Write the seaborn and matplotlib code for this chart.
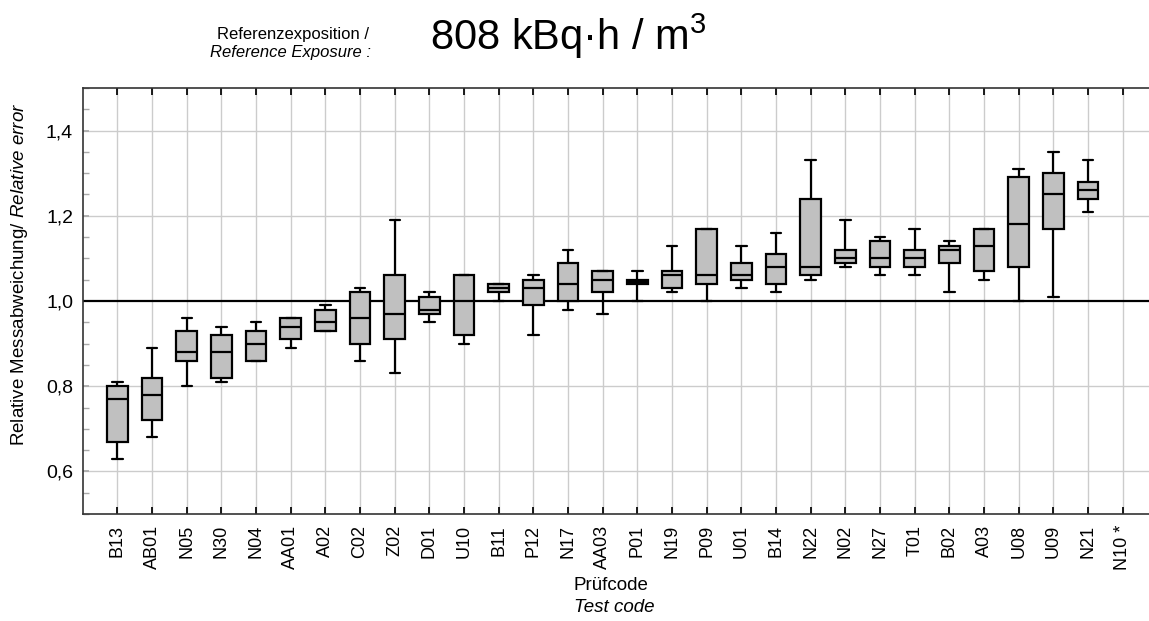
import numpy as np
import pandas as pd
import matplotlib
matplotlib.use("Agg")
import matplotlib.pyplot as plt
from matplotlib.ticker import MultipleLocator, FixedLocator
import seaborn as sns

# ---- data ----
codes = ["B13", "AB01", "N05", "N30", "N04", "AA01", "A02", "C02", "Z02", "D01",
         "U10", "B11", "P12", "N17", "AA03", "P01", "N19", "P09", "U01", "B14",
         "N22", "N02", "N27", "T01", "B02", "A03", "U08", "U09", "N21", "N10 *"]
w_low = [0.63, 0.68, 0.80, 0.81, 0.86, 0.89, 0.93, 0.86, 0.83, 0.95,
         0.90, 1.00, 0.92, 0.98, 0.97, 1.00, 1.02, 1.00, 1.03, 1.02,
         1.05, 1.08, 1.06, 1.06, 1.02, 1.05, 1.00, 1.01, 1.21, None]
q1 = [0.67, 0.72, 0.86, 0.82, 0.86, 0.91, 0.93, 0.90, 0.91, 0.97,
      0.92, 1.02, 0.99, 1.00, 1.02, 1.04, 1.03, 1.04, 1.05, 1.04,
      1.06, 1.09, 1.08, 1.08, 1.09, 1.07, 1.08, 1.17, 1.24, None]
med = [0.77, 0.78, 0.88, 0.88, 0.90, 0.94, 0.95, 0.96, 0.97, 0.98,
       1.00, 1.03, 1.03, 1.04, 1.05, 1.045, 1.06, 1.06, 1.06, 1.08,
       1.08, 1.10, 1.10, 1.10, 1.12, 1.13, 1.18, 1.25, 1.26, None]
q3 = [0.80, 0.82, 0.93, 0.92, 0.93, 0.96, 0.98, 1.02, 1.06, 1.01,
      1.06, 1.04, 1.05, 1.09, 1.07, 1.05, 1.07, 1.17, 1.09, 1.11,
      1.24, 1.12, 1.14, 1.12, 1.13, 1.17, 1.29, 1.30, 1.28, None]
w_high = [0.81, 0.89, 0.96, 0.94, 0.95, 0.96, 0.99, 1.03, 1.19, 1.02,
          1.06, 1.04, 1.06, 1.12, 1.07, 1.07, 1.13, 1.17, 1.13, 1.16,
          1.33, 1.19, 1.15, 1.17, 1.14, 1.17, 1.31, 1.35, 1.33, None]
ytick_vals = [0.6, 0.8, 1.0, 1.2, 1.4]
ytick_labels = ["0,6", "0,8", "1,0", "1,2", "1,4"]
reference_value = 1.0

# long table: the five read statistics per code (min, q1, median, q3, max)
rows = []
for i, c in enumerate(codes):
    if med[i] is None:
        continue
    for v in (w_low[i], q1[i], med[i], q3[i], w_high[i]):
        rows.append({"code": c, "value": v})
df = pd.DataFrame(rows)

sns.set_theme(style="white", rc={"text.color": "black", "axes.labelcolor": "black",
                                 "xtick.color": "black", "ytick.color": "black"})
plt.rcParams["font.family"] = ["Liberation Sans", "DejaVu Sans"]
plt.rcParams["mathtext.fontset"] = "custom"
plt.rcParams["mathtext.rm"] = "Liberation Sans"
plt.rcParams["mathtext.it"] = "Liberation Sans:italic"

fig = plt.figure(figsize=(11.49, 6.21), dpi=100)
ax = fig.add_axes([0.0720, 0.1723, 1.0 - 0.0720, 0.6860])

ax.axhline(reference_value, color="black", lw=1.6, zorder=1)

sns.boxplot(data=df, x="code", y="value", order=codes, ax=ax,
            whis=(0, 100), width=0.6, color="#c0c0c0", saturation=1,
            linecolor="black", linewidth=1.6, showfliers=False, zorder=3)

ax.set_xlim(-1.0, 29.76)
ax.set_ylim(0.5, 1.5)

# grid
ax.set_axisbelow(True)
for i in range(len(codes)):
    ax.axvline(i, color="#cccccc", lw=1.0, zorder=0)
for v in ytick_vals:
    if v != reference_value:
        ax.axhline(v, color="#cccccc", lw=1.0, zorder=0)

ax.yaxis.set_major_locator(FixedLocator(ytick_vals))
ax.set_yticklabels(ytick_labels, fontsize=14)
ax.yaxis.set_minor_locator(MultipleLocator(0.05))
ax.tick_params(axis="y", which="both", direction="in", length=4, color="#aaaaaa",
               labelcolor="black", left=True, pad=7)
ax.tick_params(axis="x", which="major", direction="in", length=5, color="black",
               labelcolor="black", top=True, bottom=True, pad=8, labelsize=13,
               labelrotation=90)

for s in ("left", "top", "bottom"):
    ax.spines[s].set_visible(True)
    ax.spines[s].set_color("#333333")
    ax.spines[s].set_linewidth(1.2)
ax.spines["right"].set_visible(False)

ax.set_xlabel("")
ax.set_ylabel("")

fig.text(20 / 1149, 1 - 274 / 621,
         r"Relative Messabweichung/ $\it{Relative\ error}$",
         rotation=90, ha="center", va="center", fontsize=13.5, color="black")
fig.text(611 / 1149, 1 - 586 / 621, "Prüfcode", ha="center", va="center",
         fontsize=13.5, color="black")
fig.text(614 / 1149, 1 - 608 / 621, "Test code", ha="center", va="center",
         fontsize=13.5, style="italic", color="black")

fig.text(293 / 1149, 1 - 35 / 621, "Referenzexposition /", ha="center", va="center",
         fontsize=12, color="black")
fig.text(291 / 1149, 1 - 53 / 621, "Reference Exposure :", ha="center", va="center",
         fontsize=12, style="italic", color="black")
fig.text(430 / 1149, 1 - 50 / 621, r"808 kBq·h / m$^{3}$", ha="left", va="baseline",
         fontsize=30, color="black")

fig.savefig("out.png", dpi=100)
